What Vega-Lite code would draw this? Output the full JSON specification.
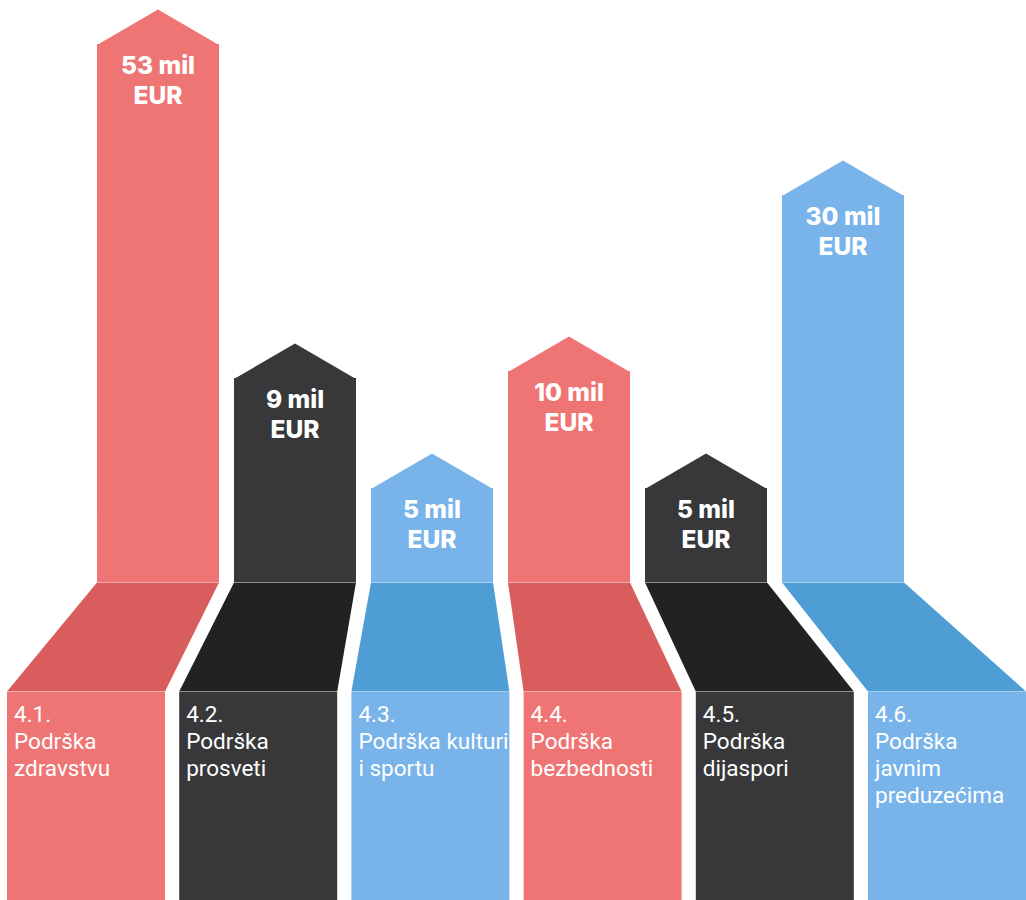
{
  "$schema": "https://vega.github.io/schema/vega-lite/v6.json",
  "padding": 0,
  "background": "white",
  "spacing": 0,
  "config": {"view": {"stroke": null}, "concat": {"spacing": 0}},
  "data": {
    "values": [
      {"code": "4.1.", "group": "red", "value": 53, "amount": "53 mil\nEUR", "label": "4.1.\nPodrška\nzdravstvu"},
      {"code": "4.2.", "group": "dark", "value": 9, "amount": "9 mil\nEUR", "label": "4.2.\nPodrška\nprosveti"},
      {"code": "4.3.", "group": "blue", "value": 5, "amount": "5 mil\nEUR", "label": "4.3.\nPodrška kulturi\ni sportu"},
      {"code": "4.4.", "group": "red", "value": 10, "amount": "10 mil\nEUR", "label": "4.4.\nPodrška\nbezbednosti"},
      {"code": "4.5.", "group": "dark", "value": 5, "amount": "5 mil\nEUR", "label": "4.5.\nPodrška\ndijaspori"},
      {"code": "4.6.", "group": "blue", "value": 30, "amount": "30 mil\nEUR", "label": "4.6.\nPodrška\njavnim\npreduzećima"}
    ]
  },
  "resolve": {"scale": {"color": "independent", "shape": "independent", "x": "independent", "y": "independent"}},
  "vconcat": [
    {
      "width": 1026,
      "height": 582,
      "encoding": {
        "x": {"field": "code", "type": "nominal", "axis": null, "sort": null,
              "scale": {"type": "band", "range": [97, 904], "paddingInner": 0.1095, "paddingOuter": 0, "round": false}},
        "y": {"field": "value", "type": "quantitative", "axis": null,
              "scale": {"domain": [0, 5, 9, 10, 30, 53], "range": [582, 488, 378, 371, 195, 44], "nice": false, "zero": false}},
        "color": {"field": "group", "type": "nominal", "legend": null,
                  "scale": {"domain": ["red", "dark", "blue"], "range": ["#EE7574", "#38383A", "#78B4EA"]}}
      },
      "layer": [
        {"mark": {"type": "bar"}, "encoding": {"y2": {"datum": 0}}},
        {"mark": {"type": "point", "filled": true, "opacity": 1, "strokeWidth": 0, "size": 40000,
                  "shape": "M-0.61,0.01L0,-0.345L0.61,0.01Z"}},
        {"mark": {"type": "text", "baseline": "top", "align": "center", "dy": 11, "lineBreak": "\n", "lineHeight": 30,
                  "font": "Inter", "fontWeight": 800, "fontSize": 24.5, "color": "white"},
         "encoding": {"text": {"field": "amount"}, "color": {"value": "white"}}}
      ]
    },
    {
      "width": 1026,
      "height": 108,
      "mark": {"type": "point", "filled": true, "opacity": 1, "strokeWidth": 0, "size": 40000},
      "encoding": {
        "x": {"field": "code", "type": "nominal", "axis": null, "sort": null,
              "scale": {"type": "band", "range": [97, 904], "paddingInner": 0.1095, "paddingOuter": 0, "round": false}},
        "shape": {"field": "code", "type": "nominal", "legend": null,
                  "scale": {"domain": ["4.1.", "4.2.", "4.3.", "4.4.", "4.5.", "4.6."],
                            "range": [
                              "M-0.61,-0.545L0.61,-0.545L0.07,0.545L-1.51,0.545Z",
                              "M-0.61,-0.545L0.61,-0.545L0.422,0.545L-1.158,0.545Z",
                              "M-0.61,-0.545L0.61,-0.545L0.774,0.545L-0.806,0.545Z",
                              "M-0.61,-0.545L0.61,-0.545L1.126,0.545L-0.454,0.545Z",
                              "M-0.61,-0.545L0.61,-0.545L1.478,0.545L-0.102,0.545Z",
                              "M-0.61,-0.545L0.61,-0.545L1.83,0.545L0.25,0.545Z"]}},
        "color": {"field": "group", "type": "nominal", "legend": null,
                  "scale": {"domain": ["red", "dark", "blue"], "range": ["#DA5D5D", "#212322", "#4E9DD5"]}}
      }
    },
    {
      "width": 1026,
      "height": 210,
      "encoding": {
        "x": {"field": "code", "type": "nominal", "axis": null, "sort": null,
              "scale": {"type": "band", "range": [7, 1026], "paddingInner": 0.0825, "paddingOuter": 0, "round": false}},
        "color": {"field": "group", "type": "nominal", "legend": null,
                  "scale": {"domain": ["red", "dark", "blue"], "range": ["#EE7574", "#38383A", "#78B4EA"]}}
      },
      "layer": [
        {"mark": {"type": "bar"}},
        {"mark": {"type": "text", "align": "left", "baseline": "top", "dx": 7, "dy": -93, "lineBreak": "\n", "lineHeight": 27,
                  "font": "Roboto", "fontSize": 22.5, "fontWeight": 400},
         "encoding": {"x": {"field": "code", "type": "nominal", "bandPosition": 0, "axis": null, "sort": null},
                      "text": {"field": "label"}, "color": {"value": "white"}}}
      ]
    }
  ]
}
